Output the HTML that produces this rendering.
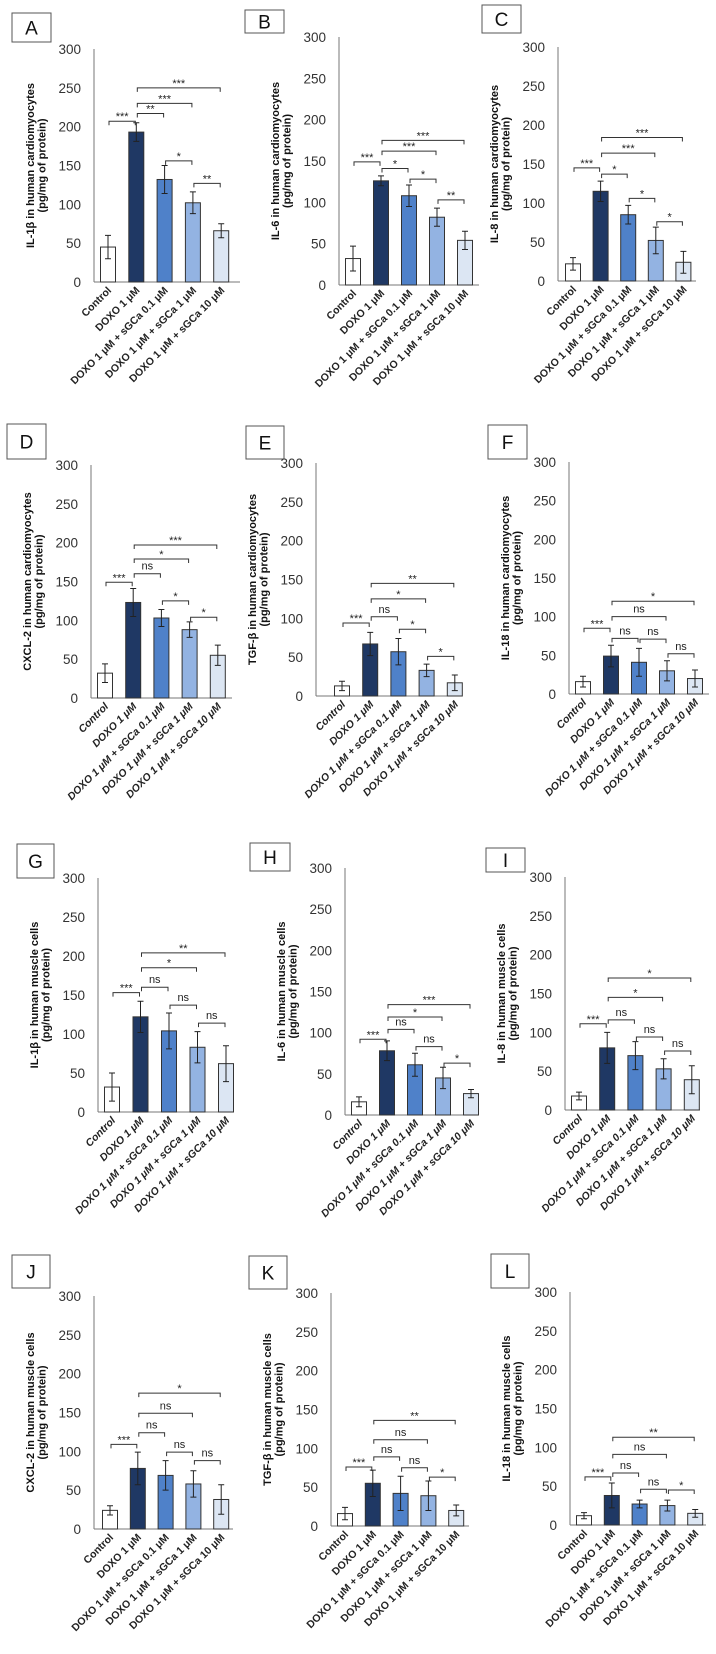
<!DOCTYPE html>
<html><head><meta charset="utf-8"><style>
html,body{margin:0;padding:0;background:#fff;}
svg{display:block;font-family:"Liberation Sans",Arial,sans-serif;}
</style></head><body>
<svg id="fig" width="716" height="1654" viewBox="0 0 716 1654" xmlns="http://www.w3.org/2000/svg"></svg>
<script>
const categories = ["Control","DOXO 1 μM","DOXO 1 μM + sGCa 0.1 μM","DOXO 1 μM + sGCa  1 μM","DOXO 1 μM + sGCa 10 μM"];
const yTicks = [0,50,100,150,200,250,300];
const barColors = ["#ffffff","#1f3864","#4f81c9","#93b3e2","#dce6f3"];

const meansA=[45,193,132,102,66], errA=[15,12,18,14,9];
const meansB=[32,126,108,82,54], errB=[15,6,13,11,11];
const meansC=[22,115,85,52,24], errC=[8,13,12,17,14];
const meansD=[32,123,103,88,55], errD=[12,18,11,10,13];
const meansE=[13,67,57,33,17], errE=[6,15,17,8,10];
const meansF=[16,49,41,30,20], errF=[7,14,18,13,11];
const meansG=[32,122,104,83,62], errG=[18,20,23,20,23];
const meansH=[16,78,61,45,26], errH=[6,12,14,13,5];
const meansI=[18,80,70,53,39], errI=[5,20,18,13,18];
const meansJ=[24,78,69,58,38], errJ=[6,21,19,17,19];
const meansK=[16,55,42,39,20], errK=[8,17,22,19,7];
const meansL=[12,38,27,25,15], errL=[4,16,5,7,5];

// brackets: [from, to, level, label]
const sigA=[[0,1,207,"***"],[1,2,217,"**"],[1,3,230,"***"],[1,4,250,"***"],[2,3,156,"*"],[3,4,127,"**"]];
const sigB=[[0,1,149,"***"],[1,2,141,"*"],[1,3,162,"***"],[1,4,175,"***"],[2,3,128,"*"],[3,4,103,"**"]];
const sigC=[[0,1,145,"***"],[1,2,137,"*"],[1,3,164,"***"],[1,4,184,"***"],[2,3,106,"*"],[3,4,76,"*"]];
const sigD=[[0,1,149,"***"],[1,2,160,"ns"],[1,3,179,"*"],[1,4,197,"***"],[2,3,125,"*"],[3,4,104,"*"]];
const sigE=[[0,1,94,"***"],[1,2,102,"ns"],[1,3,125,"*"],[1,4,145,"**"],[2,3,86,"*"],[3,4,51,"*"]];
const sigF=[[0,1,85,"***"],[1,2,72,"ns"],[1,3,100,"ns"],[1,4,120,"*"],[2,3,71,"ns"],[3,4,52,"ns"]];
const sigG=[[0,1,153,"***"],[1,2,160,"ns"],[1,3,185,"*"],[1,4,204,"**"],[2,3,137,"ns"],[3,4,114,"ns"]];
const sigH=[[0,1,92,"***"],[1,2,104,"ns"],[1,3,119,"*"],[1,4,134,"***"],[2,3,83,"ns"],[3,4,63,"*"]];
const sigI=[[0,1,111,"***"],[1,2,116,"ns"],[1,3,145,"*"],[1,4,170,"*"],[2,3,94,"ns"],[3,4,76,"ns"]];
const sigJ=[[0,1,109,"***"],[1,2,124,"ns"],[1,3,149,"ns"],[1,4,175,"*"],[2,3,99,"ns"],[3,4,88,"ns"]];
const sigK=[[0,1,76,"***"],[1,2,89,"ns"],[1,3,111,"ns"],[1,4,136,"**"],[2,3,75,"ns"],[3,4,63,"*"]];
const sigL=[[0,1,62,"***"],[1,2,67,"ns"],[1,3,91,"ns"],[1,4,113,"**"],[2,3,46,"ns"],[3,4,45,"*"]];

const titlesTop = ["IL-1β in human cardiomyocytes","IL-6 in human cardiomyocytes","IL-8 in human cardiomyocytes","CXCL-2 in human cardiomyocytes","TGF-β in human cardiomyocytes","IL-18 in human cardiomyocytes","IL-1β in human muscle cells","IL-6 in human muscle cells","IL-8 in human muscle cells","CXCL-2 in human muscle cells","TGF-β in human muscle cells","IL-18 in human muscle cells"];

const panels = [
 {id:"A",m:meansA,e:errA,s:sigA,ax:94,yt:49,yb:282,bx:108,st:28.3,xe:240,box:[12,13,51,42],it:false},
 {id:"B",m:meansB,e:errB,s:sigB,ax:339,yt:37,yb:285,bx:353,st:28,xe:479,box:[245,10,284,33],it:false},
 {id:"C",m:meansC,e:errC,s:sigC,ax:558,yt:47,yb:281,bx:573,st:27.6,xe:696,box:[482,5,521,33],it:false},
 {id:"D",m:meansD,e:errD,s:sigD,ax:91,yt:465,yb:698,bx:105,st:28.2,xe:232,box:[7,424,46,459],it:true},
 {id:"E",m:meansE,e:errE,s:sigE,ax:316,yt:463,yb:696,bx:342,st:28.2,xe:461,box:[246,426,284,459],it:true},
 {id:"F",m:meansF,e:errF,s:sigF,ax:569,yt:462,yb:694,bx:583,st:28,xe:709,box:[488,425,527,459],it:true},
 {id:"G",m:meansG,e:errG,s:sigG,ax:98,yt:878,yb:1112,bx:112,st:28.5,xe:234,box:[17,844,54,878],it:true},
 {id:"H",m:meansH,e:errH,s:sigH,ax:345,yt:868,yb:1115,bx:359,st:28,xe:479,box:[250,843,290,871],it:true},
 {id:"I",m:meansI,e:errI,s:sigI,ax:565,yt:877,yb:1110,bx:579,st:28.2,xe:700,box:[486,848,525,872],it:true},
 {id:"J",m:meansJ,e:errJ,s:sigJ,ax:94,yt:1296,yb:1529,bx:110,st:27.8,xe:233,box:[12,1255,50,1288],it:false},
 {id:"K",m:meansK,e:errK,s:sigK,ax:331,yt:1293,yb:1526,bx:345,st:27.8,xe:469,box:[249,1256,287,1289],it:false},
 {id:"L",m:meansL,e:errL,s:sigL,ax:570,yt:1292,yb:1525,bx:584,st:27.8,xe:706,box:[491,1254,529,1288],it:false}
];

const NS="http://www.w3.org/2000/svg";
const svg=document.getElementById("fig");
function mk(tag,attrs,parent){const el=document.createElementNS(NS,tag);for(const k in attrs)el.setAttribute(k,attrs[k]);(parent||svg).appendChild(el);return el;}

panels.forEach((p,pi)=>{
  const g=mk("g",{});
  
  
  const y=v=>p.yb-(v/300)*(p.yb-p.yt);
  const x=i=>p.bx+i*p.st;
  const b=mk("rect",{x:p.box[0],y:p.box[1],width:p.box[2]-p.box[0],height:p.box[3]-p.box[1],fill:"#fff",stroke:"#555","stroke-width":1},g);
  
  
  const bl=mk("text",{x:(p.box[0]+p.box[2])/2,y:(p.box[1]+p.box[3])/2+7,"text-anchor":"middle","font-size":19,fill:"#111"},g);
  bl.textContent=p.id;
  
  
  const ya=mk("line",{x1:p.ax,y1:p.yt,x2:p.ax,y2:p.yb,stroke:"#777","stroke-width":1},g);
  
  
  const xa=mk("line",{x1:p.ax,y1:p.yb,x2:p.xe,y2:p.yb,stroke:"#777","stroke-width":1},g);
  
  
  yTicks.forEach(t=>{
    const tl=mk("text",{x:p.ax-13,y:y(t)+5,"text-anchor":"end","font-size":13.5,fill:"#333"},g);
    tl.textContent=t;
    
    
  });
  const cy=(p.yt+p.yb)/2, tx=p.ax-60;
  const t1=mk("text",{x:tx,y:cy,"text-anchor":"middle","font-size":11,"font-weight":"bold",fill:"#111",transform:`rotate(-90 ${tx} ${cy})`},g);
  t1.textContent=titlesTop[pi];
  
  
  const t2=mk("text",{x:tx+11.5,y:cy,"text-anchor":"middle","font-size":11,"font-weight":"bold",fill:"#111",transform:`rotate(-90 ${tx+11.5} ${cy})`},g);
  t2.textContent="(pg/mg of protein)";
  
  
  p.m.forEach((v,i)=>{
    const r=mk("rect",{x:x(i)-7.5,y:y(v),width:15,height:p.yb-y(v),fill:barColors[i],stroke:"#333","stroke-width":1},g);
    
    
    const e=p.e[i];
    const eb=mk("path",{d:`M${x(i)},${y(v+e)}V${y(v-e)}M${x(i)-3},${y(v+e)}H${x(i)+3}M${x(i)-3},${y(v-e)}H${x(i)+3}`,stroke:"#222","stroke-width":1,fill:"none"},g);
    
    
    const lx=x(i)+4, ly=p.yb+9;
    const xl=mk("text",{x:lx,y:ly,"text-anchor":"end","font-size":10.5,"font-weight":"bold","font-style":p.it?"italic":"normal",fill:"#222",transform:`rotate(-45 ${lx} ${ly})`},g);
    xl.textContent=categories[i];
    
    
  });
  p.s.forEach(s=>{
    const x1=x(s[0])+1, x2=x(s[1])-1, yy=y(s[2]);
    const br=mk("path",{d:`M${x1},${yy+4}V${yy}H${x2}V${yy+4}`,stroke:"#333","stroke-width":1,fill:"none"},g);
    
    
    const isNs=s[3]==="ns";
    const st=mk("text",{x:(x1+x2)/2,y:isNs?yy-4:yy-1,"text-anchor":"middle","font-size":11,fill:"#222"},g);
    st.textContent=s[3];
    
    
  });
});
</script>
</body></html>
